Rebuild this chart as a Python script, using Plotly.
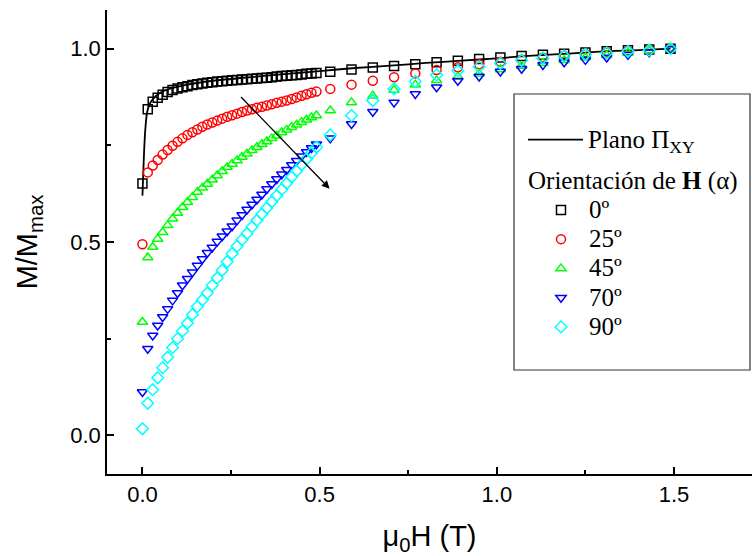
import plotly.graph_objects as go

# Applied field (T): dense sweep up to 0.5 T, then coarser steps up to 1.5 T
field_low = [0.000, 0.015, 0.029, 0.043, 0.057, 0.071, 0.085, 0.099, 0.113, 0.127,
             0.141, 0.155, 0.169, 0.183, 0.197, 0.211, 0.225, 0.239, 0.253, 0.267,
             0.281, 0.295, 0.309, 0.323, 0.337, 0.351, 0.365, 0.379, 0.393, 0.407,
             0.421, 0.435, 0.449, 0.463, 0.477, 0.491]
field_high = [0.53, 0.59, 0.65, 0.71, 0.77, 0.83, 0.89, 0.95, 1.01, 1.07,
              1.13, 1.19, 1.25, 1.31, 1.37, 1.43, 1.49]
field = field_low + field_high

# Normalised magnetisation M/Mmax for each field orientation alpha
m_0 = [0.651, 0.843, 0.863, 0.873, 0.881, 0.888, 0.893, 0.897, 0.900, 0.903,
       0.906, 0.908, 0.910, 0.912, 0.913, 0.915, 0.916, 0.917, 0.918, 0.919,
       0.920, 0.921, 0.922, 0.923, 0.924, 0.925, 0.926, 0.928, 0.929, 0.930,
       0.931, 0.932, 0.933, 0.935, 0.936, 0.937,
       0.940, 0.946, 0.951, 0.955, 0.960, 0.965, 0.969, 0.973, 0.977, 0.981,
       0.984, 0.987, 0.990, 0.993, 0.996, 0.998, 1.000]
m_25 = [0.494, 0.680, 0.698, 0.712, 0.726, 0.738, 0.749, 0.759, 0.768, 0.777,
        0.784, 0.791, 0.798, 0.804, 0.809, 0.814, 0.819, 0.824, 0.828, 0.832,
        0.836, 0.840, 0.843, 0.847, 0.850, 0.853, 0.856, 0.860, 0.863, 0.866,
        0.870, 0.874, 0.878, 0.882, 0.886, 0.889,
        0.896, 0.907, 0.917, 0.926, 0.936, 0.945, 0.952, 0.960, 0.966, 0.972,
        0.977, 0.982, 0.986, 0.990, 0.994, 0.997, 1.000]
m_45 = [0.293, 0.460, 0.487, 0.508, 0.525, 0.543, 0.560, 0.575, 0.590, 0.603,
        0.616, 0.629, 0.640, 0.650, 0.661, 0.672, 0.683, 0.693, 0.702, 0.711,
        0.720, 0.728, 0.737, 0.745, 0.753, 0.760, 0.768, 0.775, 0.783, 0.790,
        0.797, 0.803, 0.810, 0.816, 0.822, 0.827,
        0.840, 0.861, 0.878, 0.893, 0.907, 0.918, 0.927, 0.935, 0.946, 0.955,
        0.963, 0.970, 0.977, 0.983, 0.989, 0.995, 1.000]
m_70 = [0.112, 0.224, 0.258, 0.284, 0.306, 0.327, 0.349, 0.368, 0.388, 0.405,
        0.422, 0.439, 0.456, 0.472, 0.486, 0.501, 0.515, 0.528, 0.541, 0.556,
        0.570, 0.584, 0.597, 0.610, 0.623, 0.637, 0.650, 0.663, 0.675, 0.687,
        0.699, 0.710, 0.722, 0.733, 0.743, 0.753,
        0.768, 0.805, 0.837, 0.861, 0.883, 0.900, 0.917, 0.928, 0.941, 0.948,
        0.958, 0.965, 0.971, 0.977, 0.984, 0.991, 0.999]
m_90 = [0.017, 0.083, 0.118, 0.149, 0.175, 0.202, 0.227, 0.250, 0.270, 0.290,
        0.312, 0.333, 0.350, 0.368, 0.388, 0.407, 0.427, 0.449, 0.470, 0.489,
        0.506, 0.522, 0.539, 0.556, 0.572, 0.588, 0.604, 0.620, 0.636, 0.652,
        0.668, 0.684, 0.700, 0.715, 0.730, 0.745,
        0.777, 0.827, 0.866, 0.896, 0.915, 0.932, 0.943, 0.953, 0.962, 0.970,
        0.976, 0.981, 0.985, 0.989, 0.993, 0.996, 1.000]

# In-plane (Pi_XY) reference curve
plano_field = [0.0, 0.004, 0.008, 0.013, 0.02, 0.03, 0.05, 0.08, 0.12, 0.2,
               0.3, 0.4, 0.5, 0.6, 0.7, 0.8, 0.9, 1.0, 1.1, 1.2, 1.3, 1.4, 1.49]
plano_m = [0.62, 0.72, 0.79, 0.835, 0.856, 0.870, 0.886, 0.897, 0.906, 0.917,
           0.926, 0.934, 0.942, 0.950, 0.956, 0.963, 0.969, 0.975, 0.982, 0.987,
           0.993, 0.996, 1.000]

angle_labels = ["0º", "25º", "45º", "70º", "90º"]
series = [m_0, m_25, m_45, m_70, m_90]
colors = ["#000000", "#ff0000", "#00ff00", "#0000ff", "#00ffff"]
symbols = ["square-open", "circle-open", "triangle-up-open",
           "triangle-down-open", "diamond-open"]

# Direction of increasing alpha
arrow_tail = (0.274, 0.879)
arrow_head = (0.528, 0.638)

SANS = "Liberation Sans, Arial, sans-serif"
SERIF = "Liberation Serif, Times New Roman, serif"
LEG_PX = 25

# plot-area geometry in pixels (used to place the legend frame)
PL, PR, PT, PB = 107, 752, 10, 474
PW, PH = PR - PL, PB - PT


def px_x(p):
    return (p - PL) / PW


def px_y(p):
    return (PB - p) / PH


def leg_text(s):
    return f'<span style="font-size:{LEG_PX}px">{s}</span>'


fig = go.Figure()

for i, (lab, vals, col, sym) in enumerate(zip(angle_labels, series, colors, symbols)):
    fig.add_trace(go.Scatter(
        x=field, y=vals, mode="markers",
        marker=dict(symbol=sym, size=9, color=col, line=dict(width=1.5, color=col)),
        name=leg_text(lab), legend="legend2", legendgroup="alpha", legendrank=10 + i,
        legendgrouptitle=dict(text=leg_text("Orientación de <b>H</b> (α)"),
                              font=dict(family=SERIF, size=20.2, color="black")),
    ))
    if i == 0:
        fig.add_trace(go.Scatter(
            x=plano_field, y=plano_m, mode="lines",
            line=dict(color="black", width=1.8, shape="spline", smoothing=0.6),
            name=leg_text("Plano Π<sub>XY</sub>"), legend="legend",
        ))

fig.add_annotation(
    x=arrow_head[0], y=arrow_head[1], ax=arrow_tail[0], ay=arrow_tail[1],
    xref="x", yref="y", axref="x", ayref="y", text="", showarrow=True,
    arrowhead=2, arrowsize=1.2, arrowwidth=1.3, arrowcolor="black",
)

# Frame around the legend
fig.add_shape(type="rect", xref="paper", yref="paper",
              x0=px_x(514), x1=px_x(750), y0=px_y(370), y1=px_y(94),
              line=dict(color="#333333", width=1.2), fillcolor="white", layer="below")

axis_common = dict(
    showline=True, linecolor="black", linewidth=1.5, mirror=False,
    ticks="inside", ticklen=7, tickwidth=1.5, tickcolor="black",
    showgrid=False, zeroline=False,
    tickfont=dict(family=SANS, size=22, color="black"),
)

legend_common = dict(
    xanchor="left", yanchor="top",
    bgcolor="rgba(0,0,0,0)", borderwidth=0,
    font=dict(family=SERIF, size=20.2, color="black"),
)

fig.update_layout(
    width=752, height=556,
    margin=dict(l=PL, r=752 - PR, t=PT, b=556 - PB),
    paper_bgcolor="white", plot_bgcolor="white",
    showlegend=True,
    legend=dict(x=px_x(523), y=px_y(120), itemwidth=55, **legend_common),
    legend2=dict(x=px_x(523), y=px_y(161), itemwidth=46, indentation=10,
                 **legend_common),
    xaxis=dict(
        range=[-0.1, 1.72], tickvals=[0, 0.5, 1.0, 1.5],
        ticktext=["0.0", "0.5", "1.0", "1.5"],
        minor=dict(tickvals=[0.25, 0.75, 1.25], ticks="inside", ticklen=4,
                   tickwidth=1.5, tickcolor="black"),
        title=dict(text="μ<sub>0</sub>H (T)", font=dict(family=SANS, size=29, color="black"),
                   standoff=20),
        **axis_common,
    ),
    yaxis=dict(
        range=[-0.1, 1.1], tickvals=[0, 0.5, 1.0],
        ticktext=["0.0", "0.5", "1.0"],
        minor=dict(tickvals=[0.25, 0.75], ticks="inside", ticklen=4,
                   tickwidth=1.5, tickcolor="black"),
        title=dict(text="M/M<sub>max</sub>", font=dict(family=SANS, size=29, color="black"),
                   standoff=24),
        **axis_common,
    ),
)

fig.write_html("out.html")
